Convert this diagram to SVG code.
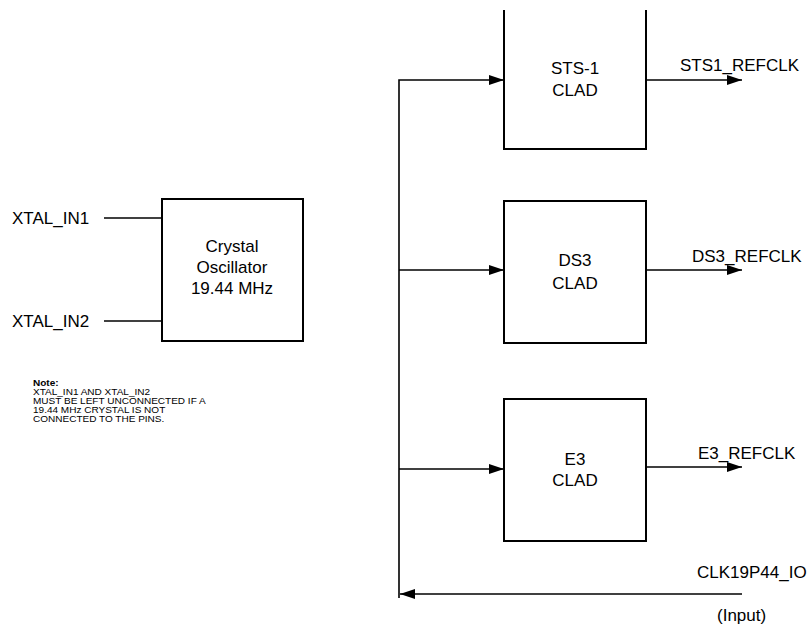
<svg xmlns="http://www.w3.org/2000/svg" width="810" height="630" viewBox="0 0 810 630">
<style>
.box{fill:#fff;stroke:#000;stroke-width:2}
.ln{fill:none;stroke:#000;stroke-width:1.6}
.t{font-family:"Liberation Sans",Arial,sans-serif;font-size:17px;fill:#000}
.c{text-anchor:middle}
.n{font-family:"Liberation Sans",Arial,sans-serif;font-size:8.5px;fill:#000}
.b{font-weight:bold}
</style>
<defs>
<marker id="ah" markerUnits="userSpaceOnUse" markerWidth="16" markerHeight="11" refX="15" refY="5.5" orient="auto">
<path d="M0,0.5 L15,5.5 L0,10.5 Z" fill="#000"/>
</marker>
</defs>
<rect width="810" height="630" fill="#fff"/>
<g id="connectors">
<line class="ln" x1="104" y1="218" x2="162" y2="218"/>
<line class="ln" x1="104" y1="321" x2="162" y2="321"/>
<polyline class="ln" points="399,598 399,80 504,80" marker-end="url(#ah)"/>
<line class="ln" x1="399" y1="270" x2="504" y2="270" marker-end="url(#ah)"/>
<line class="ln" x1="399" y1="469" x2="504" y2="469" marker-end="url(#ah)"/>
<line class="ln" x1="646" y1="80" x2="742" y2="80" marker-end="url(#ah)"/>
<line class="ln" x1="646" y1="270" x2="742" y2="270" marker-end="url(#ah)"/>
<line class="ln" x1="646" y1="467" x2="742" y2="467" marker-end="url(#ah)"/>
<line class="ln" x1="742" y1="594" x2="400" y2="594" marker-end="url(#ah)"/>
</g>
<g id="crystal">
<rect class="box" x="162" y="199" width="141" height="142"/>
<text class="t c" x="232" y="252">Crystal</text>
<text class="t c" x="232" y="273">Oscillator</text>
<text class="t c" x="232" y="294">19.44 MHz</text>
</g>
<g id="sts1">
<path class="box" d="M504,10 L504,149 L646,149 L646,10"/>
<text class="t c" x="575" y="74">STS-1</text>
<text class="t c" x="575" y="96">CLAD</text>
</g>
<g id="ds3">
<rect class="box" x="504" y="201" width="142" height="142"/>
<text class="t c" x="575" y="266">DS3</text>
<text class="t c" x="575" y="289">CLAD</text>
</g>
<g id="e3">
<rect class="box" x="504" y="399" width="142" height="142"/>
<text class="t c" x="575" y="465">E3</text>
<text class="t c" x="575" y="486">CLAD</text>
</g>
<g id="labels">
<text class="t" x="12" y="224">XTAL_IN1</text>
<text class="t" x="12" y="327">XTAL_IN2</text>
<text class="t" x="680" y="71">STS1_REFCLK</text>
<text class="t" x="692" y="262">DS3_REFCLK</text>
<text class="t" x="698" y="459">E3_REFCLK</text>
<text class="t" x="697" y="578">CLK19P44_IO</text>
<text class="t" x="717" y="621">(Input)</text>
</g>
<g id="note" transform="translate(33,0) scale(1.18,1)">
<text class="n b" x="0" y="386">Note:</text>
<text class="n" x="0" y="395">XTAL_IN1 AND XTAL_IN2</text>
<text class="n" x="0" y="404">MUST BE LEFT UNCONNECTED IF A</text>
<text class="n" x="0" y="413">19.44 MHz CRYSTAL IS NOT</text>
<text class="n" x="0" y="422">CONNECTED TO THE PINS.</text>
</g>
</svg>
